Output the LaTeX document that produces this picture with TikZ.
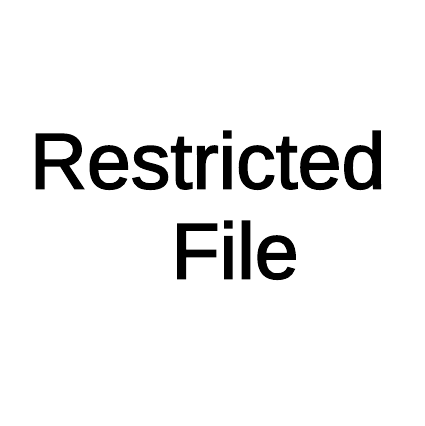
\documentclass[tikz,border=0pt]{standalone}
\usepackage{fontspec}
\setmainfont{Liberation Sans}
\newfontfamily\heavysans[FakeBold=2]{Liberation Sans}
\usepackage{tikz}
\usetikzlibrary{positioning}

\begin{document}
\begin{tikzpicture}[x=0.5pt,y=-0.5pt]
    \tikzset{bigword/.style={inner sep=0pt,anchor=base west,font=\heavysans\fontsize{39.5pt}{44pt}\selectfont}}

    % Frame
    \useasboundingbox[fill=white] (0,0) rectangle (424,426);

    % Words
    \node[bigword] (restricted) at (29.5,188.5) {Restricted};
    \node[bigword] (file) at (171,278.5) {File};
  \end{tikzpicture}
\end{document}
